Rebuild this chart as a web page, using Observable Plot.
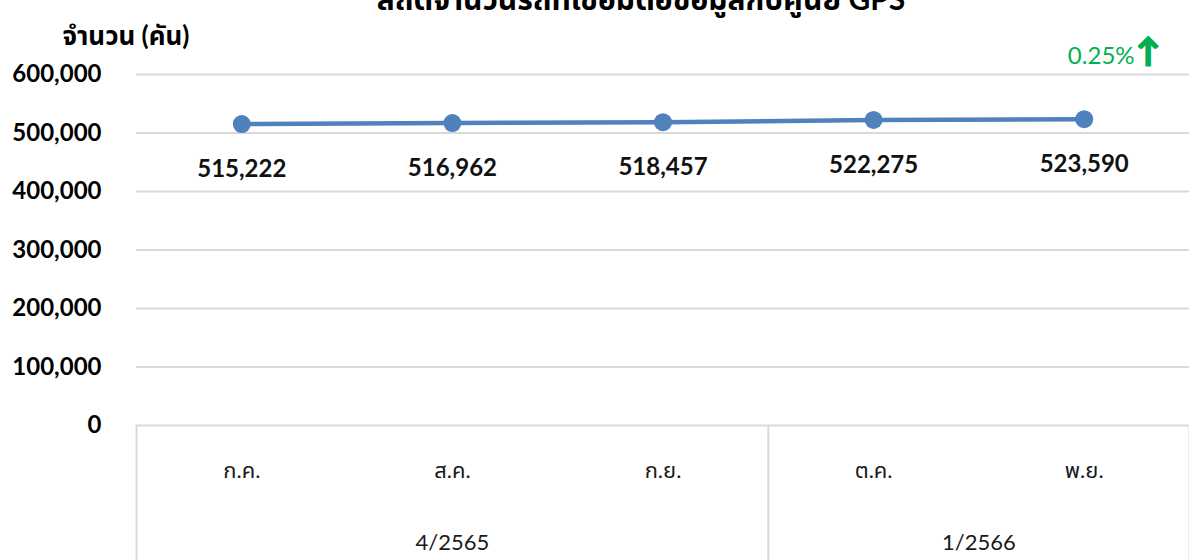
<!DOCTYPE html>
<html><head><meta charset="utf-8">
<script src="https://cdn.jsdelivr.net/npm/d3@7"></script>
<script src="https://cdn.jsdelivr.net/npm/@observablehq/plot@0.6"></script>
<style>
body{margin:0;background:#fff;width:1189px;height:560px;overflow:hidden;position:relative;font-family:Lato,"Noto Sans Thai","Noto Sans",sans-serif}
#title{position:absolute;top:-22px;left:0;width:1282px;text-align:center;font-weight:bold;font-size:30px;color:#000;line-height:40px}
#chart{position:absolute;top:0;left:0}
</style></head><body>
<div id="chart"></div>
<div id="title">สถิติจำนวนรถที่เชื่อมต่อข้อมูลกับศูนย์ GPS</div>
<script>
const months = ["ก.ค.", "ส.ค.", "ก.ย.", "ต.ค.", "พ.ย."];
const values = [515222, 516962, 518457, 522275, 523590];
const groups = ["4/2565", "1/2566"];
const groupSizes = [3, 2];
const yTicks = [0, 100000, 200000, 300000, 400000, 500000, 600000];
const yTitle = "จำนวน (คัน)";
const change = "0.25%";

const rows = months.map((m, i) => ({i, m, v: values[i]}));
const bounds = [-0.5];
const groupRows = [];
let start = 0;
groups.forEach((g, k) => {
  const n = groupSizes[k];
  groupRows.push({g, c: start + (n - 1) / 2});
  start += n;
  bounds.push(start - 0.5);
});
const last = rows[rows.length - 1];
const fmt = d3.format(",");
const green = "#00b050";
const blue = "#4f81bd";

const chart = Plot.plot({
  width: 1189, height: 560,
  marginLeft: 136, marginRight: 0, marginTop: 74, marginBottom: 135,
  x: {type: "linear", domain: [-0.5, months.length - 0.5], axis: null},
  y: {domain: [0, 600000], ticks: yTicks, tickFormat: d => fmt(d), tickSize: 0, tickPadding: 35, label: null},
  style: {fontFamily: 'Lato, "Noto Sans Thai", "Noto Sans", sans-serif', fontSize: "24px", fontWeight: "bold", color: "#000", background: "transparent"},
  marks: [
    Plot.ruleY(yTicks, {stroke: "#d9d9d9", strokeWidth: 2}),
    Plot.ruleX(bounds, {x: d => d, y1: 0, y2: 0, insetBottom: -135, stroke: "#d9d9d9", strokeWidth: 2}),
    Plot.text(rows, {x: "i", y: 0, text: "m", dy: 45, fontWeight: "normal", fontSize: 22, fill: "#1a1a1a"}),
    Plot.text(groupRows, {x: "c", y: 0, text: "g", dy: 117, fontWeight: "normal", fontSize: 22, fill: "#1a1a1a"}),
    Plot.line(rows, {x: "i", y: "v", stroke: blue, strokeWidth: 4.5}),
    Plot.dot(rows, {x: "i", y: "v", r: 9, fill: blue}),
    Plot.text(rows, {x: "i", y: "v", text: d => fmt(d.v), dy: 45, fill: "#111"}),
    Plot.text([yTitle], {frameAnchor: "top-left", text: d => d, dx: -74, dy: -48, textAnchor: "start", fontSize: 26}),
    Plot.text([last], {x: "i", y: "v", text: () => change, dx: 17, dy: -63, fill: green, fontWeight: "normal", fontSize: 24}),
    Plot.text([last], {x: "i", y: "v", text: () => "↑", dx: 64, dy: -67, fill: green, stroke: green, strokeWidth: 2, fontSize: 32})
  ]
});
document.getElementById("chart").append(chart);
</script>
</body></html>
